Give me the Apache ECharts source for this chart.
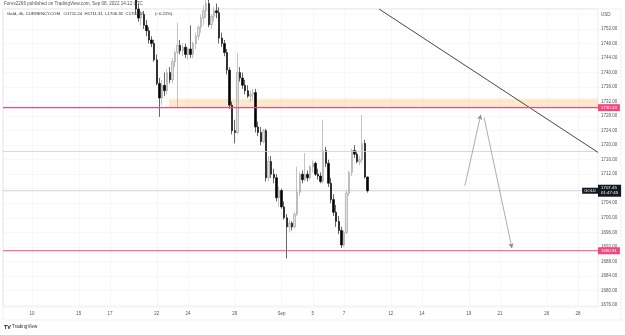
<!DOCTYPE html>
<html>
<head>
<meta charset="utf-8">
<script src="https://cdn.jsdelivr.net/npm/echarts/dist/echarts.min.js"></script>
<style>
html,body{margin:0;padding:0;background:#fff;}
#c{position:absolute;left:0;top:0;width:625px;height:335px;}
</style>
</head>
<body>
<div id="c"></div>
<script>
// ---- data (4h bars, bar index counted from Aug 10 00:00) ----
const startBar = 38;
const openP = [1764,1761,1760,1757.5,1755,1756,1753,1751.5,1749,1748,1743.5,1737,1733,1736.5,1735,1740,1738,1743,1745.5,1747.5,1746,1747,1745,1746.5,1745,1748,1750,1752.5,1755,1757,1759,1753.2,1755.5,1757,1756.5,1749.5,1748,1745.5,1740.7,1731,1724,1723.5,1740,1738.5,1736.5,1735,1733.5,1734,1734.5,1725,1723.5,1721,1724,1711,1715.5,1712,1711,1705.5,1707.5,1703,1700,1697.5,1698.5,1697.5,1701,1707,1712,1710.5,1712,1711,1714,1715,1712,1711.5,1710,1718.5,1715,1709.5,1705,1701.5,1699,1696.5,1692.5,1696,1706.8,1712.5,1718.5,1717.5,1715.5,1716,1720.5,1711.24];
const highP = [1766,1763,1761.5,1759,1757,1757,1754.5,1752.5,1750,1749,1745,1738.5,1738,1740,1741,1741.5,1744,1746,1753.7,1749,1748,1748,1747,1753,1748.5,1751,1753,1756,1758.5,1760,1761,1756,1758,1759,1758,1751,1749,1746.5,1741.5,1732,1727,1745.4,1741.5,1740,1738,1736.5,1735,1735.5,1735.5,1726.5,1725,1724.5,1724.5,1717,1717,1713.5,1712,1708.5,1708,1704.5,1701,1699.5,1699,1701.5,1714,1712.5,1713,1717.8,1713,1714.5,1715.8,1715.5,1713.5,1712.5,1727,1719.5,1716,1711,1706.5,1703.5,1700.5,1697.5,1696.5,1707.5,1713,1719,1720,1718.5,1717,1728.3,1721.5,1711.31];
const lowP = [1760,1758.5,1756,1754,1753,1752,1750,1748,1747,1743,1736.5,1727.8,1731,1733.5,1734,1737,1737,1741.5,1730.5,1745,1744.5,1744,1743.5,1744,1744,1746.5,1749,1751,1753,1755,1752.5,1752,1754,1755,1748,1747,1744.5,1739.5,1730,1723,1720.5,1723,1737.5,1735.5,1734,1733,1732,1732.5,1723.5,1722.5,1720,1720.5,1710,1710,1711,1709.5,1704.5,1703,1702.5,1699.5,1688.8,1696,1696.5,1697,1700.5,1706,1709.5,1710,1710,1710.5,1712.5,1711.5,1710.5,1709.5,1709.5,1714,1708.5,1704,1700.5,1697.5,1695.5,1691.7,1692,1695.5,1706,1711.5,1716.5,1715,1714.5,1715,1710.8,1706.92];
const closeP = [1761,1760,1757.5,1755,1756,1753,1751.5,1749,1748,1743.5,1737,1733,1736.5,1735,1740,1738,1743,1745.5,1747.5,1746,1747,1745,1746.5,1745,1748,1750,1752.5,1755,1757,1759,1753.2,1755.5,1757,1756.5,1749.5,1748,1745.5,1740.7,1731,1724,1723.5,1740,1738.5,1736.5,1735,1733.5,1734,1734.5,1725,1723.5,1721,1724,1711,1715.5,1712,1711,1705.5,1707.5,1703,1700,1697.5,1698.5,1697.5,1701,1707,1712,1710.5,1712,1711,1714,1715,1712,1711.5,1710,1718.5,1715,1709.5,1705,1701.5,1699,1696.5,1692.5,1696,1706.8,1712.5,1718.5,1717.5,1715.5,1716,1720.5,1711.24,1707.45];

const xTickBars = [0,18,30,48,60,78,96,108,120,138,150,168,180,198,210];
const xTickLabels = ['10','15','17','22','24','29','Sep','5','7','12','14','19','21','26','28'];
const yTicks = [1676,1680,1684,1688,1692,1696,1700,1704,1708,1712,1716,1720,1724,1728,1732,1736,1740,1744,1748,1752,1756];

const zoneTop = 1732.8, zoneLevel = 1730.33, supportLevel = 1690.91, lastPrice = 1707.45;
const grayLevel = 1718.2;
const zoneStartBar = 52.7;
const trendLine = [[133.5, 1757.5], [217.7, 1718.0]];
const upArrow = [[166.5, 1708.8], [172.6, 1728.4]];
const downArrow = [[173.9, 1727.6], [184.6, 1691.6]];

// ---- build ----
const candles = openP.map((o, k) => [startBar + k, o, closeP[k], lowP[k], highP[k]]);
const FONT = 'Liberation Sans, Arial, sans-serif';
const PINK = '#f5477e';
const X_MIN = -11.15, X_MAX = 217.7;

function levelSeries(level, color, labelText, bg, width, z) {
  return {
    type: 'line', silent: true, z: z, symbol: 'none', animation: false,
    data: [[X_MIN, level], [X_MAX, level]],
    itemStyle: {color: color},
    lineStyle: {color: color, width: width, type: 'solid', opacity: 1},
    endLabel: labelText ? {show: true, distance: 0, formatter: labelText, backgroundColor: bg, color: '#fff',
      fontSize: 4.4, lineHeight: 5, padding: [1, 3, 1, 3], fontFamily: FONT} : {show: false}
  };
}

const chart = echarts.init(document.getElementById('c'), null, {renderer: 'canvas'});
chart.setOption({
  animation: false,
  backgroundColor: '#ffffff',
  grid: {left: 3, top: 9, right: 27, bottom: 28, show: true, borderColor: '#e3e3e3', borderWidth: 0.6},
  xAxis: {
    type: 'value', min: X_MIN, max: X_MAX,
    axisLine: {show: false}, axisTick: {show: false, customValues: xTickBars},
    splitLine: {show: true, lineStyle: {color: '#f2f2f2', width: 0.6}},
    axisLabel: {customValues: xTickBars, margin: 4, fontSize: 4.5, color: '#555', fontFamily: FONT,
      formatter: v => xTickLabels[xTickBars.indexOf(Math.round(v))] || ''}
  },
  yAxis: {
    type: 'value', position: 'right', min: 1675.42, max: 1757.51, scale: true,
    axisLine: {show: false}, axisTick: {show: false, customValues: yTicks},
    splitLine: {show: true, lineStyle: {color: '#f2f2f2', width: 0.6}},
    axisLabel: {customValues: yTicks, margin: 3, fontSize: 4.5, color: '#555', fontFamily: FONT,
      formatter: v => v === 1756 ? 'USD' : v.toFixed(2)}
  },
  series: [
  {
    type: 'line', data: [], silent: true, z: 0,
    markArea: {
      silent: true,
      itemStyle: {color: 'rgba(255,170,60,0.25)', borderWidth: 0},
      data: [[{coord: [zoneStartBar, zoneTop]}, {coord: [X_MAX, zoneLevel]}]]
    }
  },
  {
    type: 'line', data: [], silent: true, z: 1,
    markLine: {
      silent: true, symbol: 'none', animation: false,
      data: [
        {yAxis: grayLevel, lineStyle: {color: '#cfcfcf', width: 0.8, type: 'solid'}, label: {show: false}}
      ]
    },
    markPoint: {
      silent: true, symbol: 'rect', symbolSize: 0,
      data: [{coord: [X_MAX, lastPrice], label: {show: true, position: 'left', distance: 0, formatter: 'GOLD',
        backgroundColor: '#131722', color: '#fff', fontSize: 4.2, padding: [1, 2, 1, 2], fontFamily: FONT}}]
    }
  },
  levelSeries(lastPrice, '#c8c8c8', lastPrice.toFixed(2) + '\n01:47:45', '#131722', 0.8, 2),
  {
    type: 'candlestick',
    data: candles,
    encode: {x: 0, y: [1, 2, 3, 4]},
    barWidth: 2,
    clip: true,
    z: 3,
    itemStyle: {color: '#e0e0e0', color0: '#000000', borderColor: '#9a9a9a', borderColor0: '#000000', borderWidth: 0.6}
  },
  {
    type: 'line', data: [], silent: true, z: 6,
    markLine: {
      silent: true, symbol: 'none', animation: false,
      data: [
        [{coord: trendLine[0], lineStyle: {color: '#333', width: 0.9, type: 'solid'}, label: {show: false}}, {coord: trendLine[1]}],
        [{coord: upArrow[0], symbol: 'none', lineStyle: {color: '#8a8a8a', width: 0.7, type: 'solid'}, label: {show: false}}, {coord: upArrow[1], symbol: 'arrow', symbolSize: [4, 5]}],
        [{coord: downArrow[0], symbol: 'none', lineStyle: {color: '#8a8a8a', width: 0.7, type: 'solid'}, label: {show: false}}, {coord: downArrow[1], symbol: 'arrow', symbolSize: [4, 5]}]
      ]
    }
  },
  levelSeries(supportLevel, PINK, supportLevel.toFixed(2), PINK, 1.2, 10),
  levelSeries(zoneLevel, PINK, zoneLevel.toFixed(2), PINK, 1.2, 10)
  ],
  graphic: [
    {type: 'text', left: 4, top: 1, style: {text: 'Forex2266 published on TradingView.com, Sep 08, 2022 14:12 UTC', fontSize: 4.6, fill: '#555', fontFamily: FONT}},
    {type: 'text', left: 7, top: 11.5, z: 100, style: {text: 'Gold, 4h, CURRENCYCOM   O1711.24  H1711.31  L1706.92  C1707.45', fontSize: 4.3, fill: '#333', fontFamily: FONT}},
    {type: 'text', left: 155, top: 11.5, z: 100, style: {text: '(−0.22%)', fontSize: 4.3, fill: '#333', fontFamily: FONT}},
    {type: 'text', left: 4, top: 324, style: {text: 'TV', fontSize: 5.5, fontWeight: 'bold', fill: '#131722', fontFamily: FONT}},
    {type: 'text', left: 12, top: 324.5, style: {text: 'TradingView', fontSize: 4.6, fill: '#333', fontFamily: FONT}},
    {type: 'rect', shape: {x: 3, y: 9, width: 618, height: 311}, style: {fill: 'none', stroke: '#e6e6e6', lineWidth: 0.6}, silent: true}
  ]
});
</script>
</body>
</html>
